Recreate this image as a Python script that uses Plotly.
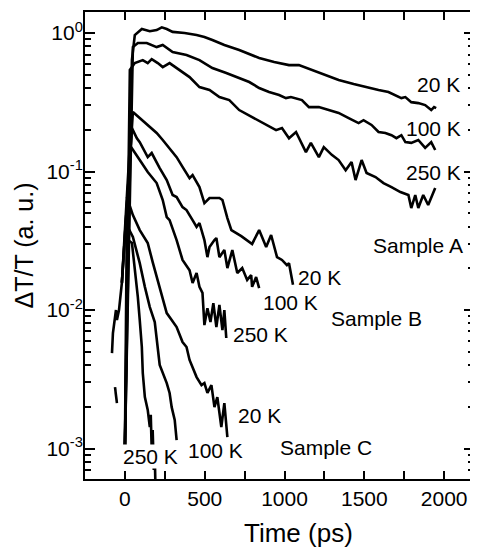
import plotly.graph_objects as go

# ---------------- data ----------------
# Sample A
t_A20 = [0, 44, 62, 106, 156, 199, 231, 262, 299, 374, 449, 498, 548, 623, 716, 841, 935, 1028, 1090, 1171,
         1246, 1339, 1433, 1508, 1589, 1651, 1695, 1732, 1757, 1794, 1838, 1881, 1919, 1937, 1950]
v_A20 = [0.001, 0.64, 0.967, 1.07, 1.03, 1.05, 1.10, 1.07, 1.02, 1.00, 0.967, 0.936, 0.89, 0.82, 0.754, 0.66,
         0.617, 0.587, 0.587, 0.541, 0.497, 0.458, 0.428, 0.407, 0.388, 0.375, 0.357, 0.339, 0.345, 0.317,
         0.312, 0.302, 0.278, 0.292, 0.287]

t_A100 = [0, 50, 81, 137, 199, 237, 299, 386, 467, 548, 635, 716, 779, 841, 903, 966, 1009, 1040, 1109, 1153,
          1215, 1277, 1339, 1402, 1464, 1495, 1545, 1589, 1632, 1670, 1701, 1732, 1757, 1794, 1838, 1881,
          1919, 1944]
v_A100 = [0.001, 0.792, 0.847, 0.847, 0.792, 0.819, 0.729, 0.694, 0.638, 0.559, 0.514, 0.473, 0.443, 0.401,
          0.375, 0.357, 0.339, 0.345, 0.328, 0.292, 0.292, 0.278, 0.265, 0.243, 0.224, 0.235, 0.217, 0.193,
          0.190, 0.183, 0.174, 0.183, 0.163, 0.161, 0.169, 0.148, 0.163, 0.143]

t_A250 = [0, 31, 62, 112, 143, 168, 206, 237, 280, 343, 405, 467, 530, 592, 654, 716, 797, 885, 947, 984, 1028,
          1072, 1134, 1165, 1215, 1246, 1296, 1339, 1383, 1420, 1445, 1483, 1514, 1570, 1620, 1670, 1726,
          1776, 1794, 1819, 1838, 1869, 1900, 1944]
v_A250 = [0.001, 0.541, 0.607, 0.638, 0.607, 0.649, 0.607, 0.568, 0.607, 0.541, 0.481, 0.407, 0.388, 0.345,
          0.328, 0.278, 0.247, 0.217, 0.199, 0.206, 0.174, 0.193, 0.138, 0.161, 0.127, 0.150, 0.132, 0.121,
          0.102, 0.117, 0.0868, 0.121, 0.0976, 0.0913, 0.0826, 0.0773, 0.0711, 0.0677, 0.0545, 0.0677,
          0.0545, 0.0677, 0.0573, 0.0760]

# Sample B
t_B20 = [-81, -75, -56, -50, -37, -19, 50, 93, 156, 199, 237, 280, 324, 361, 405, 424, 449, 467, 498, 530, 592,
         611, 642, 667, 729, 797, 841, 860, 885, 916, 953, 984, 1015, 1028, 1053]
v_B20 = [0.00489, 0.00682, 0.0100, 0.00847, 0.0100, 0.0157, 0.269, 0.243, 0.210, 0.190, 0.169, 0.148, 0.127,
         0.108, 0.0897, 0.0944, 0.0840, 0.0773, 0.0592, 0.0644, 0.0644, 0.0623, 0.0461, 0.0378, 0.0342,
         0.0300, 0.0378, 0.0331, 0.0285, 0.0348, 0.0241, 0.0230, 0.0211, 0.0218, 0.0152]

t_B100 = [-19, 44, 75, 93, 143, 168, 218, 262, 299, 324, 361, 386, 424, 449, 467, 498, 517, 530, 561, 573, 592,
          623, 642, 673, 704, 735, 766, 791, 797, 822, 841]
v_B100 = [0.0157, 0.206, 0.174, 0.163, 0.127, 0.136, 0.106, 0.0868, 0.0677, 0.0655, 0.0554, 0.0527, 0.0446,
          0.0398, 0.0425, 0.0320, 0.0241, 0.0285, 0.0320, 0.0331, 0.0241, 0.0271, 0.0201, 0.0271, 0.0185,
          0.0201, 0.0165, 0.0179, 0.0147, 0.0173, 0.0144]

t_B250 = [-19, 31, 93, 143, 199, 237, 262, 280, 324, 361, 405, 424, 449, 467, 486, 498, 517, 536, 554, 573, 592,
          611, 623, 635]
v_B250 = [0.0157, 0.155, 0.121, 0.0992, 0.0826, 0.0623, 0.0469, 0.0446, 0.0320, 0.0230, 0.0194, 0.0157,
          0.0185, 0.0147, 0.0133, 0.00779, 0.0103, 0.00819, 0.0112, 0.00754, 0.0109, 0.00717, 0.0100, 0.00628]

# Sample C
t_C20 = [-62, -50, None, 12, 50, 93, 143, 174, 199, 231, 262, 293, 324, 361, 386, 405, 449, 480, 498, 517, 542,
         561, 579, 604, 623, 642]
v_C20 = [0.00278, 0.00213, None, 0.0655, 0.0485, 0.0378, 0.0305, 0.0222, 0.0173, 0.0124, 0.00951, 0.00847,
         0.00754, 0.00587, 0.00541, 0.00436, 0.00328, 0.00287, 0.00297, 0.00252, 0.00287, 0.00199, 0.00235,
         0.00143, 0.00213, 0.00121]

t_C100 = [0, 12, 50, 93, 125, 156, 187, 199, 206, 218, 262, 280, 293, 312, 324]
v_C100 = [0.00105, 0.0411, 0.0337, 0.0218, 0.0147, 0.0105, 0.00819, 0.00607, 0.00489, 0.00401, 0.00297,
          0.00252, 0.00199, 0.00161, 0.00115]

t_C250 = [0, 19, 44, 62, 81, 93, 106, 112, 125, 143, 156, 162, 168, 174, 181, 187, 193]
v_C250 = [0.00105, 0.0320, 0.0305, 0.0204, 0.0124, 0.00847, 0.00541, 0.00351, 0.00235, 0.00190, 0.00143,
          0.00175, 0.00098, 0.00136, 0.00070, 0.000898, 0.00043]

series = [(t_A20, v_A20), (t_A100, v_A100), (t_A250, v_A250),
          (t_B20, v_B20), (t_B100, v_B100), (t_B250, v_B250),
          (t_C20, v_C20), (t_C100, v_C100), (t_C250, v_C250)]

y_tickvals = [0.001, 0.01, 0.1, 1]
y_ticktext = ["10<sup>-3</sup>", "10<sup>-2</sup>", "10<sup>-1</sup>", "10<sup>0</sup>"]
y_minor = [m * 10.0 ** e for e in (-4, -3, -2, -1) for m in range(2, 10)]

# label text, x (ps), log10 y
labels = [("20 K", 1962, -0.375), ("100 K", 1931, -0.686), ("250 K", 1931, -1.004), ("Sample A", 1838, -1.531),
          ("20 K", 1221, -1.762), ("100 K", 1040, -1.942), ("250 K", 847, -2.173), ("Sample B", 1576, -2.058),
          ("20 K", 841, -2.765), ("100 K", 567, -3.011), ("250 K", 162, -3.054), ("Sample C", 1258, -2.989)]

FONT = "Liberation Sans, Arial, Helvetica, sans-serif"

fig = go.Figure()
for t, v in series:
    fig.add_trace(go.Scatter(x=t, y=v, mode="lines", line=dict(color="black", width=2.6),
                             showlegend=False, connectgaps=False))

for txt, xx, ly in labels:
    bg = "white" if (txt == "250 K" and xx < 300) else "rgba(0,0,0,0)"
    fig.add_annotation(x=xx, y=ly, xref="x", yref="y", text=txt, showarrow=False,
                       font=dict(family=FONT, size=21, color="black"), bgcolor=bg, borderpad=0)

# x-axis title (sits slightly right of the plot centre in the original)
fig.add_annotation(x=0.55, y=-0.116, xref="paper", yref="paper", text="Time (ps)", showarrow=False,
                   xanchor="center", yanchor="middle", font=dict(family=FONT, size=26, color="black"))

fig.update_layout(
    width=470, height=542,
    margin=dict(l=77, r=2, t=4, b=71),
    plot_bgcolor="white", paper_bgcolor="white",
    font=dict(family=FONT, size=21, color="black"),
    xaxis=dict(range=[-250, 2187], tickmode="linear", tick0=0, dtick=500,
               ticks="inside", ticklen=8, tickwidth=2, tickcolor="black",
               minor=dict(tickmode="linear", tick0=0, dtick=250, ticks="inside", ticklen=8, tickwidth=2,
                          tickcolor="black", showgrid=False),
               showline=True, linecolor="black", linewidth=2, mirror="allticks",
               showgrid=False, zeroline=False, ticklabelstandoff=0),
    yaxis=dict(type="log", range=[-3.220, 0.152], tickmode="array", tickvals=y_tickvals, ticktext=y_ticktext,
               ticks="inside", ticklen=10, tickwidth=2, tickcolor="black",
               minor=dict(tickmode="array", tickvals=y_minor, ticks="inside", ticklen=6, tickwidth=2,
                          tickcolor="black", showgrid=False),
               showline=True, linecolor="black", linewidth=2, mirror="allticks",
               showgrid=False, zeroline=False, ticklabelstandoff=-4,
               title=dict(text="ΔT/T (a. u.)", font=dict(size=25), standoff=6)),
)

fig.write_html("out.html")
